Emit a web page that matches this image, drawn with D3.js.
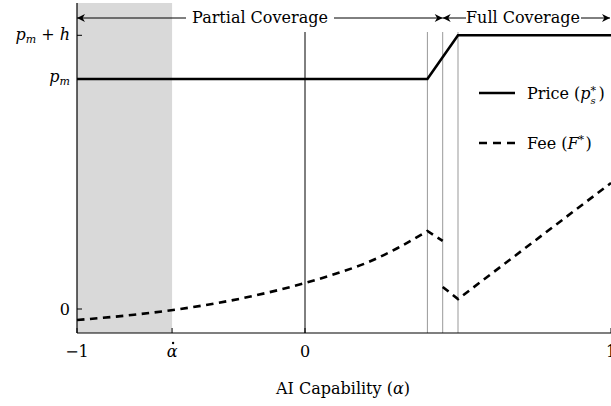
<!DOCTYPE html>
<html>
<head>
<meta charset="utf-8">
<script src="https://cdn.jsdelivr.net/npm/d3@7"></script>
<style>
body{margin:0;background:#fff}
</style>
</head>
<body>
<div id="chart"></div>
<script>
// values in plot units: 0 -> fee zero, 1 -> p_m, 1.19 -> p_m + h
var pm = 1
var pmh = 1.19
var alphaDot = -0.583
var cutoffs = [0.4, 0.45, 0.5]

var priceAlpha = [-1, 0.4, 0.5, 1]
var priceValue = [pm, pm, pmh, pmh]

var feeAlpha1 = [-1, -0.75, -0.5, -0.25, 0, 0.1, 0.2, 0.3, 0.4, 0.45]
var feeValue1 = [-0.048, -0.025, 0.007, 0.052, 0.113, 0.153, 0.200, 0.263, 0.339, 0.296]
var feeAlpha2 = [0.45, 0.5, 1]
var feeValue2 = [0.096, 0.043, 0.548]

var xTicks = [-1, alphaDot, 0, 1]
var xTickLabels = ["\u22121", "\u03B1", "0", "1"]

var font = "DejaVu Serif"
var fs = 16
var width = 611, height = 406
var plotLeft = 77, plotRight = 611, plotTop = 3, plotBottom = 333

var svg = d3.select("#chart").append("svg").attr("width",width).attr("height",height)
    .style("font-family",font)

var x = d3.scaleLinear().domain([-1,0,1]).range([plotLeft,305,plotRight])
var y = d3.scaleLinear().domain([0,pm]).range([309,79])

// shaded region
svg.append("rect")
    .attr("x",x(-1)).attr("y",plotTop)
    .attr("width",x(alphaDot)-x(-1)).attr("height",plotBottom-plotTop)
    .attr("fill","#d9d9d9")

// cutoff lines
svg.selectAll(".cut")
    .data(cutoffs)
    .enter()
    .append("line")
    .attr("x1",function(d){return x(d)}).attr("x2",function(d){return x(d)})
    .attr("y1",32).attr("y2",plotBottom)
    .attr("stroke","#999").attr("stroke-width",1)
svg.append("line")
    .attr("x1",x(0)).attr("x2",x(0)).attr("y1",32).attr("y2",plotBottom)
    .attr("stroke","#000").attr("stroke-width",1)

// axes
svg.append("line").attr("x1",plotLeft).attr("x2",plotLeft).attr("y1",plotTop).attr("y2",plotBottom)
    .attr("stroke","#000").attr("stroke-width",1.2)
svg.append("line").attr("x1",plotLeft).attr("x2",plotRight).attr("y1",plotBottom).attr("y2",plotBottom)
    .attr("stroke","#000").attr("stroke-width",1.2)

svg.selectAll(".xtick")
    .data(xTicks)
    .enter()
    .append("line")
    .attr("x1",function(d){return x(d)}).attr("x2",function(d){return x(d)})
    .attr("y1",plotBottom).attr("y2",plotBottom-5)
    .attr("stroke","#000")
svg.selectAll(".xlab")
    .data(xTicks)
    .enter()
    .append("text")
    .text(function(d,i){return xTickLabels[i]})
    .attr("x",function(d){return x(d)})
    .attr("y",357)
    .attr("font-size",fs)
    .attr("text-anchor","middle")
    .attr("font-style",function(d,i){return i==1?"italic":"normal"})
// dot over alpha
svg.append("circle").attr("cx",x(alphaDot)+1).attr("cy",343).attr("r",1.2).attr("fill","#000")

svg.selectAll(".ytick")
    .data([0,pm,pmh])
    .enter()
    .append("line")
    .attr("x1",plotLeft).attr("x2",plotLeft+5)
    .attr("y1",function(d){return y(d)}).attr("y2",function(d){return y(d)})
    .attr("stroke","#000")

function pLabel(xx,yy,withH){
    var t = svg.append("text").attr("x",xx).attr("y",yy).attr("font-size",fs).attr("text-anchor","end")
    t.append("tspan").text("p").attr("font-style","italic")
    t.append("tspan").text("m").attr("font-style","italic").attr("font-size",11).attr("dy",3)
    if(withH){
        t.append("tspan").text(" + ").attr("dy",-3)
        t.append("tspan").text("h").attr("font-style","italic")
    }
}
pLabel(70,y(pmh)+5,true)
pLabel(70,y(pm)+3,false)
svg.append("text").text("0").attr("x",70).attr("y",y(0)+6).attr("font-size",fs).attr("text-anchor","end")

var xl = svg.append("text").attr("x",343).attr("y",394).attr("font-size",fs).attr("text-anchor","middle")
xl.append("tspan").text("AI Capability (")
xl.append("tspan").text("\u03B1").attr("font-style","italic")
xl.append("tspan").text(")")

// price line
var line = d3.line().x(function(d){return x(d[0])}).y(function(d){return y(d[1])})
svg.append("path")
    .attr("d",line(d3.zip(priceAlpha,priceValue)))
    .attr("fill","none").attr("stroke","#000").attr("stroke-width",2.6)

// fee line
var curve = d3.line().x(function(d){return x(d[0])}).y(function(d){return y(d[1])}).curve(d3.curveMonotoneX)
svg.append("path")
    .attr("d",curve(d3.zip(feeAlpha1.slice(0,-1),feeValue1.slice(0,-1))) +
        "L" + x(feeAlpha1[feeAlpha1.length-1]) + "," + y(feeValue1[feeValue1.length-1]))
    .attr("fill","none").attr("stroke","#000").attr("stroke-width",2.6).attr("stroke-dasharray","7.5,5.5")
svg.append("path")
    .attr("d",line(d3.zip(feeAlpha2,feeValue2)))
    .attr("fill","none").attr("stroke","#000").attr("stroke-width",2.6).attr("stroke-dasharray","7.5,5.5")

// legend
svg.append("line").attr("x1",479).attr("x2",515).attr("y1",93).attr("y2",93)
    .attr("stroke","#000").attr("stroke-width",2.6)
svg.append("line").attr("x1",479).attr("x2",515).attr("y1",143).attr("y2",143)
    .attr("stroke","#000").attr("stroke-width",2.6).attr("stroke-dasharray","8,6")

var lp = svg.append("text").attr("x",527).attr("y",99).attr("font-size",fs)
lp.append("tspan").text("Price (")
lp.append("tspan").text("p").attr("font-style","italic")
var pEnd = 527 + lp.node().getComputedTextLength()
svg.append("text").text("*").attr("x",pEnd).attr("y",94).attr("font-size",11)
svg.append("text").text("s").attr("x",pEnd).attr("y",104).attr("font-size",10).attr("font-style","italic")
svg.append("text").text(")").attr("x",pEnd+8).attr("y",99).attr("font-size",fs)

var lf = svg.append("text").attr("x",527).attr("y",149).attr("font-size",fs)
lf.append("tspan").text("Fee (")
lf.append("tspan").text("F").attr("font-style","italic")
var fEnd = 527 + lf.node().getComputedTextLength()
svg.append("text").text("*").attr("x",fEnd).attr("y",143).attr("font-size",11)
svg.append("text").text(")").attr("x",fEnd+7).attr("y",149).attr("font-size",fs)

// coverage arrows
var defs = svg.append("defs")
defs.append("marker").attr("id","arr").attr("viewBox","0 0 10 10")
    .attr("refX",10).attr("refY",5).attr("markerWidth",12).attr("markerHeight",8)
    .attr("markerUnits","userSpaceOnUse").attr("orient","auto-start-reverse")
    .append("path").attr("d","M0,0 L10,5 L0,10 L3,5 Z").attr("fill","#000")

function coverage(x0,x1,label,tx0,tx1,cx){
    svg.append("line").attr("x1",x0).attr("x2",tx0).attr("y1",18).attr("y2",18)
        .attr("stroke","#000").attr("marker-start","url(#arr)")
    svg.append("line").attr("x1",tx1).attr("x2",x1).attr("y1",18).attr("y2",18)
        .attr("stroke","#000").attr("marker-end","url(#arr)")
    svg.append("text").text(label).attr("x",cx).attr("y",23).attr("font-size",fs).attr("text-anchor","middle")
}
coverage(x(-1),x(0.45),"Partial Coverage",186,334,260)
coverage(x(0.45),x(1)-1,"Full Coverage",466,581,523)
</script>
</body>
</html>
